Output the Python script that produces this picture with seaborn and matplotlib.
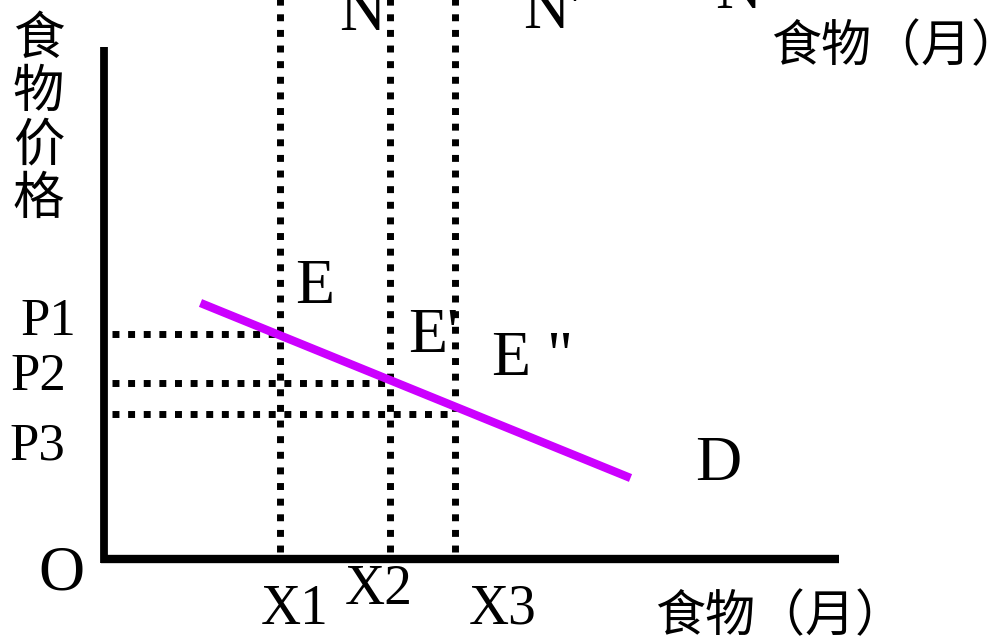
import matplotlib
matplotlib.use("Agg")
import matplotlib.pyplot as plt
import seaborn as sns
import pandas as pd

# ---- data (quantity / price units, origin at O) ----
x_labels = ["X1", "X2", "X3"]
x_values = [176, 287, 352]
p_labels = ["P1", "P2", "P3"]
p_values = [225, 176, 145]
demand_q = [97, 527]
demand_p = [256, 81]
axis_q_max = 736
axis_p_max = 512

sns.set_theme(style="white")
plt.rcParams["font.family"] = ["Liberation Serif", "DejaVu Sans"]
plt.rcParams["text.color"] = "black"
CJK = ["Noto Sans CJK SC", "DejaVu Sans"]

fig = plt.figure(figsize=(10.02, 6.42), dpi=100)
ax = fig.add_axes([0, 0, 1, 1])

# axes
ax.plot([0, 0], [-4, axis_p_max], color="black", lw=5.6, solid_capstyle="butt")
ax.plot([-3, axis_q_max], [0, 0], color="black", lw=6.0, solid_capstyle="butt")

dot = (0, (1, 1.25))
# vertical dotted lines
for xv in x_values:
    ax.plot([xv, xv], [7, 600], color="black", lw=5, linestyle=dot,
            dash_capstyle="butt")
# horizontal dotted lines
for xv, pv in zip(x_values, p_values):
    ax.plot([8.5, xv], [pv, pv], color="black", lw=5, linestyle=dot,
            dash_capstyle="butt")

# demand curve
df = pd.DataFrame({"q": demand_q, "p": demand_p})
sns.lineplot(data=df, x="q", y="p", ax=ax, color="#CC00FF", lw=6,
             solid_capstyle="butt", legend=False)
ax.set_xlim(-103.5, 898.5)
ax.set_ylim(-83, 559)
ax.axis("off")

big = 46
# price labels
for lab, xx, yy in zip(p_labels, [-55.5, -65, -66], [224, 169, 99]):
    ax.text(xx, yy, lab, fontsize=38, ha="center", va="baseline", color="black")
# quantity labels
for lab, xx, yy in zip(x_labels, [191.5, 275.5, 399.5], [-65, -45, -65]):
    ax.text(xx, yy, lab, fontsize=40, ha="center", va="baseline", color="black")

ax.text(-42, -31, "O", fontsize=big, ha="center", va="baseline", color="black")
ax.text(211.5, 256, "E", fontsize=big, ha="center", va="baseline", color="black")
ax.text(304.5, 207, "E'", fontsize=big, ha="left", va="baseline", color="black")
ax.text(388.5, 184, 'E "', fontsize=big, ha="left", va="baseline", color="black")
ax.text(615, 79, "D", fontsize=big, ha="center", va="baseline", color="black")
ax.text(258.5, 529, "N", fontsize=big, ha="center", va="baseline", color="black")
ax.text(419.5, 531, "N'", fontsize=big, ha="left", va="baseline", color="black")
ax.text(611.5, 551, "N", fontsize=big, ha="left", va="baseline", color="black")

ax.text(551.5, -58, "食物（月）", fontsize=36, ha="left", va="center",
        family=CJK, color="black")
ax.text(668, 512, "食物（月）", fontsize=36, ha="left", va="center",
        family=CJK, color="black")
ax.text(-65, 440, "\n".join("食物价格"), fontsize=37, ha="center",
        va="center", family=CJK, linespacing=1.0, color="black")

fig.savefig("out.png", dpi=100)
